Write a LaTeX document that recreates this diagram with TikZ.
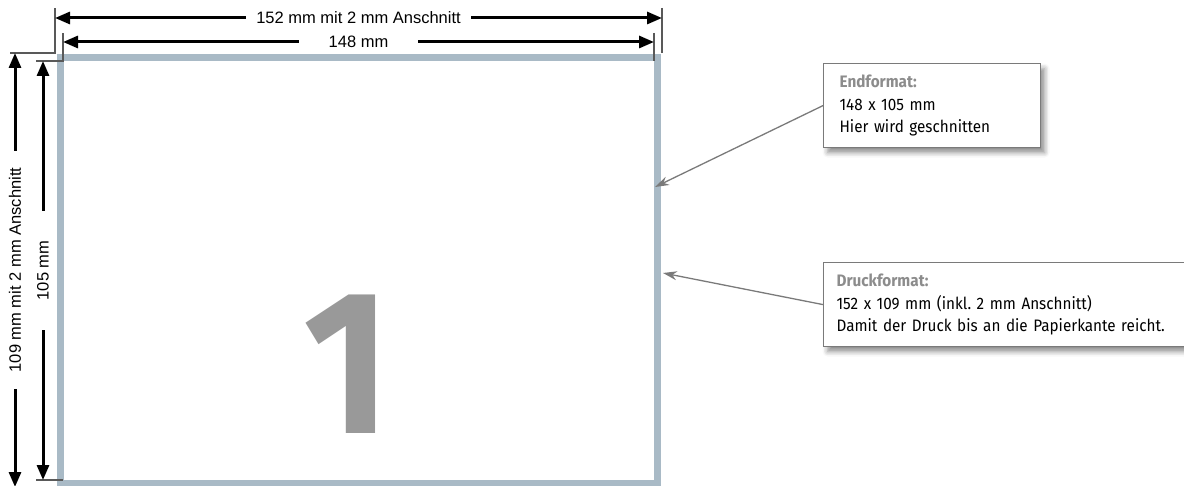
\documentclass[tikz,border=0pt]{standalone}
\usepackage{fontspec}
\setmainfont{Liberation Sans}
\newfontfamily\condfont[FakeStretch=0.92]{Fira Sans}
\usepackage{xcolor}
\usepackage{tikz}
\usetikzlibrary{arrows.meta,positioning,shadows.blur}
\definecolor{frame-blue}{HTML}{A9BAC6}
\definecolor{callout-gray}{HTML}{7A7A7A}
\definecolor{head-gray}{HTML}{8C8C8C}
\frenchspacing

\begin{document}
\begin{tikzpicture}[
    x=1pt, y=-1pt,
    dim/.style={{Triangle[length=15pt,width=12pt]}-{Triangle[length=15pt,width=12pt]}, line width=3pt},
    dimlabel/.style={fill=white, font=\fontsize{16.5}{18}\selectfont, inner ysep=2pt},
    ext/.style={draw=black!65, line width=1.3pt},
    callout/.style={rectangle, draw=callout-gray, line width=1.2pt, fill=white, align=left,
                    inner xsep=16pt, minimum height=84pt,
                    font=\condfont\fontsize{16.6}{22.5}\selectfont,
                    blur shadow={shadow xshift=4pt, shadow yshift=-5pt, shadow blur radius=5pt, shadow opacity=45}},
    pointer/.style={-{Stealth[length=14pt,width=9pt]}, draw=callout-gray, line width=1.3pt}
]
  \useasboundingbox (0,0) rectangle (1184,486);

  % Print sheet
  \draw[frame-blue, line width=7pt] (60,57.5) rectangle (657.5,483);
  \node[text=black!40, font=\condfont\bfseries\fontsize{205}{205}\selectfont, inner sep=0pt] (one) at (347.5,364) {1};

  % Extension lines
  \draw[ext] (10,53) -- (55,53) -- (55,8);
  \draw[ext] (36,61) -- (63,61) -- (63,33);
  \draw[ext] (662,8) -- (662,53);
  \draw[ext] (654,33) -- (654,61);
  \draw[ext] (36,480) -- (63,480);

  % Dimension points
  \coordinate (tl1) at (55,18);
  \coordinate (tr1) at (662,18);
  \coordinate (tl2) at (63,42);
  \coordinate (tr2) at (654,42);
  \coordinate (lt1) at (15,53);
  \coordinate (lb1) at (15,487);
  \coordinate (lt2) at (43,61);
  \coordinate (lb2) at (43,480);

  % Dimension lines
  \draw[dim] (tl1) -- (tr1) node[dimlabel, midway, inner xsep=10pt] (w152) {152 mm mit 2 mm Anschnitt};
  \draw[dim] (tl2) -- (tr2) node[dimlabel, midway, inner xsep=30pt] (w148) {148 mm};
  \draw[dim] (lb1) -- (lt1) node[dimlabel, midway, rotate=90, inner xsep=17pt] (h109) {109 mm mit 2 mm Anschnitt};
  \draw[dim] (lb2) -- (lt2) node[dimlabel, midway, rotate=90, inner xsep=30pt] (h105) {105 mm};

  % Endformat
  \node[callout, anchor=north west, text width=185pt] (end) at (823,63)
    {{\bfseries\color{head-gray}Endformat:}\\148 x 105 mm\\Hier wird geschnitten};

  % Druckformat
  \node[callout, anchor=north west, inner xsep=13pt, text width=335pt] (druck) at (823,262)
    {{\bfseries\color{head-gray}Druckformat:}\\152 x 109 mm (inkl. 2 mm Anschnitt)\\Damit der Druck bis an die Papierkante reicht.};

  % Pointers
  \coordinate (cut) at (655,187);
  \coordinate (bleed) at (663,273);
  \draw[pointer] (end.west) -- (cut);
  \draw[pointer] (druck.west) -- (bleed);

\end{tikzpicture}
\end{document}
